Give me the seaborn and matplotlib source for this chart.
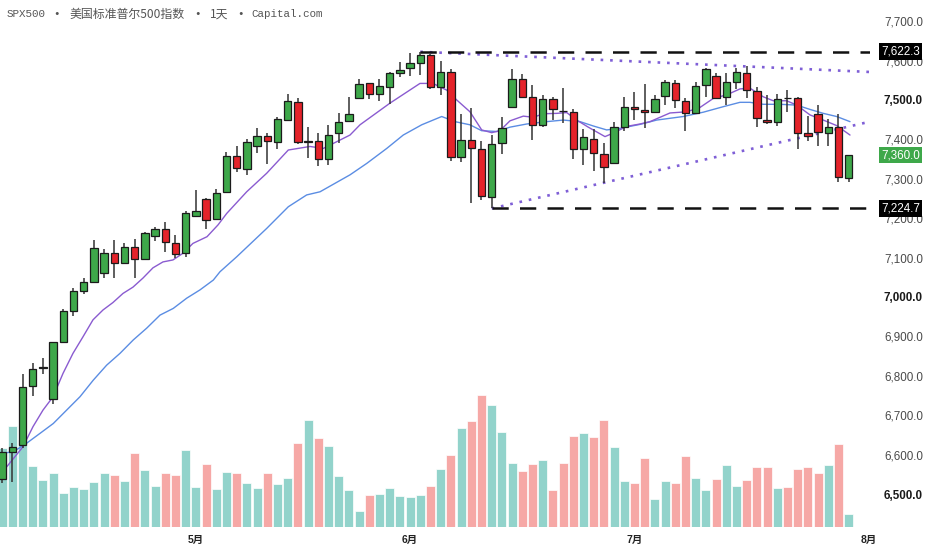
import pandas as pd
import matplotlib.pyplot as plt
import matplotlib.transforms as mtransforms
import seaborn as sns

# ---- data (daily candles, bar index 0..83) ----
opens = [6538, 6607, 6624, 6775, 6820, 6741, 6886, 6964, 7016, 7037,
         7060, 7111, 7086, 7128, 7096, 7156, 7172, 7138, 7111, 7206,
         7248, 7197, 7267, 7359, 7325, 7383, 7408, 7394, 7449, 7495,
         7394, 7396, 7350, 7415, 7446, 7504, 7542, 7516, 7534, 7569,
         7582, 7594, 7614, 7534, 7571, 7355, 7398, 7375, 7255, 7392,
         7483, 7553, 7508, 7437, 7503, 7472, 7470, 7375, 7400, 7362,
         7339, 7432, 7482, 7475, 7469, 7511, 7543, 7498, 7468, 7538,
         7560, 7508, 7545, 7568, 7523, 7448, 7443, 7505, 7504, 7415,
         7465, 7415, 7431, 7303]
highs = [6617, 6629, 6805, 6832, 6845, 6887, 6969, 7024, 7049, 7145,
         7121, 7144, 7136, 7146, 7165, 7177, 7190, 7157, 7219, 7272,
         7250, 7274, 7367, 7384, 7400, 7428, 7416, 7458, 7515, 7506,
         7432, 7415, 7436, 7466, 7507, 7553, 7543, 7553, 7572, 7596,
         7618, 7622.3, 7616, 7598, 7578, 7465, 7479, 7396, 7411, 7456,
         7578, 7565, 7538, 7513, 7508, 7530, 7477, 7426, 7426, 7392,
         7445, 7508, 7521, 7540, 7513, 7551, 7551, 7506, 7546, 7581,
         7568, 7568, 7581, 7586, 7532, 7513, 7515, 7525, 7508, 7459,
         7487, 7452, 7464, 7360]
lows = [6528, 6531, 6617, 6750, 6805, 6728, 6883, 6953, 7007, 7035,
        7047, 7047, 7084, 7047, 7094, 7141, 7114, 7098, 7102, 7205,
        7172, 7197, 7265, 7318, 7310, 7366, 7338, 7375, 7448, 7388,
        7352, 7333, 7335, 7390, 7446, 7504, 7502, 7498, 7490, 7558,
        7562, 7563, 7528, 7513, 7346, 7342, 7238, 7245, 7224.7, 7362,
        7479, 7504, 7398, 7431, 7449, 7442, 7350, 7335, 7321, 7290,
        7337, 7422, 7449, 7428, 7469, 7486, 7479, 7420, 7465, 7508,
        7502, 7487, 7528, 7504, 7432, 7438, 7434, 7470, 7376, 7396,
        7382, 7382, 7291, 7291]
closes = [6607, 6619, 6772, 6818, 6823, 6885, 6964, 7016, 7037, 7124,
          7111, 7086, 7127, 7097, 7162, 7172, 7139, 7110, 7214, 7217,
          7195, 7265, 7359, 7327, 7394, 7408, 7395, 7451, 7498, 7394,
          7395, 7350, 7410, 7445, 7465, 7541, 7515, 7535, 7569, 7576,
          7595, 7613, 7534, 7571, 7355, 7398, 7379, 7257, 7389, 7428,
          7553, 7508, 7437, 7503, 7477, 7471, 7375, 7406, 7365, 7331,
          7431, 7482, 7476, 7469, 7503, 7545, 7500, 7468, 7536, 7578,
          7506, 7545, 7570, 7525, 7455, 7444, 7503, 7504, 7417, 7409,
          7418, 7431, 7304, 7360]
volumes = [78.7, 101.3, 87, 61, 46.7, 54.3, 33.7, 40, 38, 45.5,
           54, 52.3, 46, 74.3, 57, 41, 54.3, 52.3, 76.7, 40,
           62.7, 37.7, 55, 53.7, 44.3, 39.3, 53.7, 42.7, 49.3, 84.3,
           107, 89.3, 81, 51, 37, 16.3, 32.3, 33, 38.7, 30.7,
           30.3, 31.7, 41, 58.3, 72.3, 99.3, 106, 131.7, 121.7, 95.3,
           64.3, 56.3, 63.3, 66.7, 37, 64, 91, 94.3, 90, 107,
           79.7, 46.3, 43.7, 68.7, 27.7, 46.3, 43.7, 71, 49.3, 37,
           47.7, 62, 41, 46.7, 59.7, 59.7, 38.7, 40.3, 58, 59.7,
           53.7, 61.7, 82.7, 13.3]

# moving averages as drawn on the chart (bar index, price)
ma_fast_x = [-0.2, 0.45, 2.05, 3.03, 4.01, 5.0, 5.97, 6.95, 7.93, 8.91,
             9.89, 10.87, 11.85, 12.83, 13.81, 14.79, 15.77, 16.75, 17.73, 18.71,
             20.09, 21.17, 22.02, 23.98, 25.94, 28.06, 30.19, 31.49, 34.11, 35.09,
             38.03, 40.97, 42.24, 43.59, 44.57, 45.87, 47.02, 48.0, 48.81, 49.79,
             51.1, 52.08, 53.06, 54.37, 55.35, 56.33, 57.47, 59.11, 59.92, 61.24,
             62.54, 63.52, 65.48, 67.12, 68.42, 69.73, 71.04, 72.34, 73.32, 74.63,
             75.61, 76.92, 77.9, 79.21, 80.51, 81.82, 83.13]
ma_fast = [6558, 6569, 6620, 6671, 6713, 6747, 6806, 6857, 6899, 6942,
           6967, 6986, 7009, 7025, 7048, 7074, 7089, 7094, 7111, 7136,
           7153, 7183, 7212, 7267, 7314, 7373, 7382, 7377, 7411, 7437,
           7492, 7542, 7542, 7525, 7500, 7470, 7424, 7417, 7422, 7447,
           7459, 7456, 7465, 7466, 7468, 7449, 7431, 7407, 7416, 7433,
           7439, 7445, 7467, 7470, 7481, 7504, 7513, 7528, 7530, 7508,
           7498, 7498, 7487, 7462, 7449, 7435, 7411]
ma_slow_x = [-0.21, 1.1, 2.41, 3.72, 5.02, 6.33, 7.64, 8.94, 10.25, 11.56,
             12.86, 14.18, 15.48, 16.78, 18.1, 19.4, 20.71, 21.36, 23.0, 25.94,
             28.06, 29.86, 31.17, 34.11, 35.75, 37.71, 39.33, 41.14, 43.1, 44.4,
             45.87, 47.02, 48.49, 49.79, 51.43, 53.39, 55.02, 56.66, 57.96, 59.27,
             60.58, 62.54, 64.18, 66.78, 68.75, 70.71, 72.34, 73.32, 74.63, 76.27,
             77.9, 79.21, 80.51, 81.82, 83.13]
ma_slow = [6603, 6607, 6629, 6654, 6679, 6713, 6747, 6789, 6827, 6857,
           6891, 6921, 6954, 6971, 6997, 7018, 7043, 7064, 7102, 7174,
           7229, 7259, 7267, 7310, 7339, 7377, 7411, 7437, 7458, 7445,
           7437, 7422, 7420, 7431, 7439, 7445, 7449, 7445, 7434, 7424,
           7428, 7438, 7449, 7458, 7469, 7483, 7494, 7494, 7489, 7489,
           7487, 7476, 7466, 7458, 7445]

# support / resistance and trend lines (bar index, price)
resist_level, resist_bar = 7622.3, 41
support_level, support_bar = 7224.7, 48
trend_hi_x, trend_hi_y = [41, 85.1], [7622.3, 7571]
trend_lo_x, trend_lo_y = [48, 85.1], [7224.7, 7445]
last_price = 7360.0

month_pos = [19, 40, 62, 85]
month_labels = ['5月', '6月', '7月', '8月']
price_ticks = list(range(6500, 7701, 100))

# title pieces: (text, left x in px, uses CJK font)
title_parts = [('SPX500', 7, False), ('•', 53, False),
               ('美国标准普尔500指数', 69, True), ('•', 194, False),
               ('1天', 210, True), ('•', 237, False), ('Capital.com', 251, False)]

# ---- colours ----
UP, DOWN = '#3ea84a', '#e4232a'
VOL_UP, VOL_DOWN = '#92d3cb', '#f6a8a6'

sns.set_style('white')
plt.rcParams['font.family'] = ['Liberation Sans', 'Noto Sans CJK SC', 'DejaVu Sans']

df = pd.DataFrame({'open': opens, 'high': highs, 'low': lows,
                   'close': closes, 'volume': volumes})
df['idx'] = range(len(df))
df['side'] = ['up' if c >= o else 'down' for o, c in zip(df['open'], df['close'])]

fig = plt.figure(figsize=(9.32, 5.5), dpi=100)
ax_vol = fig.add_axes([0, 23 / 550, 870 / 932, 522 / 550])

# volume underneath
sns.barplot(data=df, x='idx', y='volume', hue='side',
            palette={'up': VOL_UP, 'down': VOL_DOWN}, dodge=False,
            width=0.88, errorbar=None, legend=False, saturation=1,
            edgecolor='white', linewidth=0.5, ax=ax_vol)
ax_vol.set_ylim(0, 522)
ax_vol.set_yticks([])
ax_vol.set_xlabel('')
ax_vol.set_ylabel('')

# price axis on top
ax = ax_vol.twinx()
ax.patch.set_visible(False)

sns.lineplot(x=ma_slow_x, y=ma_slow, color='#5b8de3', lw=1, sort=False, ax=ax, zorder=2)
sns.lineplot(x=ma_fast_x, y=ma_fast, color='#8a5bd0', lw=1, sort=False, ax=ax, zorder=2)

# candles
colors = [UP if s == 'up' else DOWN for s in df['side']]
ax.vlines(df['idx'], df['low'], df['high'], color='#333333', lw=1.1, zorder=3)
body_low = df[['open', 'close']].min(axis=1)
body_h = (df['close'] - df['open']).abs().clip(lower=1.2)
ax.bar(df['idx'], body_h, bottom=body_low, width=0.72, color=colors,
       edgecolor='#1b1b1b', linewidth=0.9, zorder=4)

# dashed extremes and dotted trend lines
dash = (0, (6.5, 4.5))
ax.plot([resist_bar, 86], [resist_level] * 2, color='#111111', lw=1.8, ls=dash, zorder=5)
ax.plot([support_bar, 86], [support_level] * 2, color='#111111', lw=1.8, ls=dash, zorder=5)
dots = (0, (1, 2.6))
ax.plot(trend_hi_x, trend_hi_y, color='#7f5fd6', lw=1.9, ls=dots, zorder=2.5)
ax.plot(trend_lo_x, trend_lo_y, color='#7f5fd6', lw=1.9, ls=dots, zorder=2.5)

ax.set_xlim(-0.206, 85.09)
ax_vol.set_xlim(-0.206, 85.09)
ax.set_ylim(6416.3, 7741)

# right price scale
ax.set_yticks(price_ticks)
ax.set_yticklabels([f'{v:,.1f}' for v in price_ticks])
ax.tick_params(axis='y', length=0, pad=10, labelsize=8.4, labelcolor='#4a4a4a')
for lab, v in zip(ax.get_yticklabels(), price_ticks):
    if v % 500 == 0:
        lab.set_fontweight('bold')
        lab.set_color('#1a1a1a')

# month labels
ax_vol.set_xticks(month_pos)
ax_vol.set_xticklabels(month_labels)
ax_vol.tick_params(axis='x', length=0, pad=6, labelsize=7.5)
for lab in ax_vol.get_xticklabels():
    lab.set_fontweight('bold')
    lab.set_color('#222222')

for a in (ax, ax_vol):
    for sp in a.spines.values():
        sp.set_visible(False)
    a.grid(False)

# highlighted price tags
trans = mtransforms.blended_transform_factory(ax.transAxes, ax.transData)
for val, bg in [(resist_level, '#000000'), (support_level, '#000000'), (last_price, '#3ea84a')]:
    ax.text(1.0125, val, f'{val:,.1f}', transform=trans, ha='left', va='center',
            fontsize=8.4, color='white', clip_on=False, zorder=10,
            bbox=dict(boxstyle='square,pad=0.2', fc=bg, ec='none'))

# title line
for txt, px, cjk in title_parts:
    if cjk:
        fig.text(px / 932, 1 - 14 / 550, txt, ha='left', va='center', fontsize=8.6,
                 color='#555555', family=['Noto Sans CJK SC', 'DejaVu Sans'])
    else:
        fig.text(px / 932, 1 - 14 / 550, txt, ha='left', va='center', fontsize=7.8,
                 color='#555555', family=['Liberation Mono', 'DejaVu Sans Mono'])

fig.savefig('out.png', dpi=100)
